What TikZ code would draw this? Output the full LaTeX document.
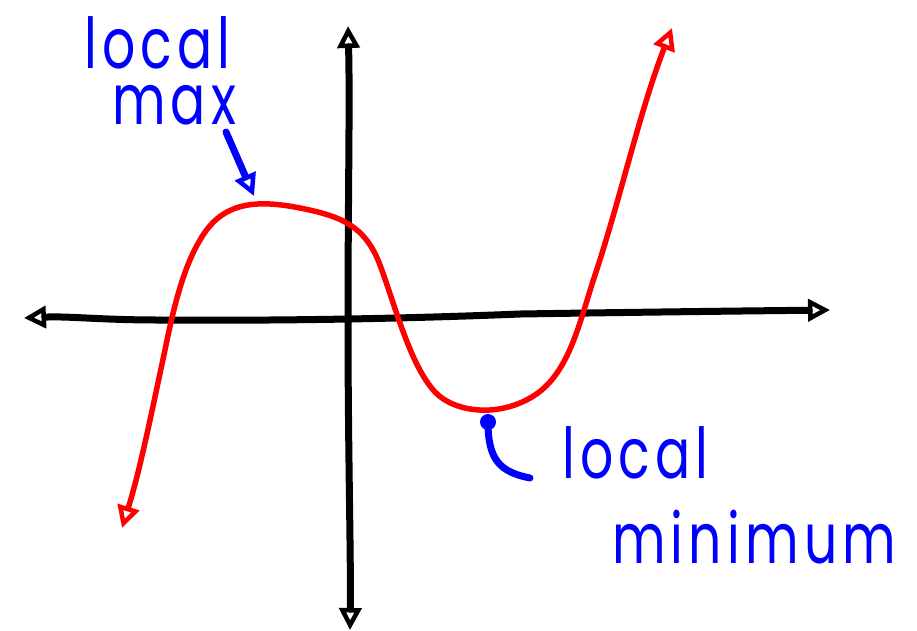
\documentclass[tikz,border=0pt]{standalone}
\usepackage{fontspec}
\usepackage{graphicx}
\newfontfamily\hand{Poppins}[LetterSpace=10]
\usetikzlibrary{arrows.meta}
\definecolor{pen}{RGB}{0,0,255}
\definecolor{redpen}{RGB}{255,0,0}
\tikzset{
  axis/.style={line width=7pt, black, line cap=round, line join=round},
  graph/.style={line width=5.5pt, redpen, line cap=round, line join=round},
  note/.style={line width=7pt, pen, line cap=round, line join=round},
  tip/.style={-{Triangle[open, length=22pt, width=22pt, line width=4.5pt]}},
  lbl/.style={text=pen, font=\hand\fontsize{52}{58}\selectfont, inner sep=0pt, anchor=base west}
}
\newcommand{\tall}[1]{\raisebox{0pt}[\height][0pt]{\scalebox{1}[1.35]{#1}}}
\begin{document}
\begin{tikzpicture}[x=1pt, y=-1pt]
\useasboundingbox (0,0) rectangle (917,630);
% axes
\coordinate (xl) at (24,318);
\coordinate (xr) at (830,310);
\coordinate (yt) at (348,26);
\coordinate (yb) at (350,630);
\draw[axis, tip] (160,320) .. controls (100,320) and (70,316) .. (xl);
\draw[axis, tip] (160,320) .. controls (300,321) and (420,318) .. (520,314) .. controls (650,312) and (740,311) .. (xr);
\draw[axis, tip] (348,320) .. controls (348,200) and (350,100) .. (yt);
\draw[axis, tip] (348,320) .. controls (348,450) and (351,560) .. (yb);
% curve
\coordinate (cl) at (122,528);
\coordinate (cr) at (672,28);
\draw[graph, tip] (300,208) .. controls (250,198) and (220,205) .. (200,240)
  .. controls (185,265) and (175,300) .. (165,350)
  .. controls (150,420) and (140,470) .. (cl);
\draw[graph, tip] (300,208) .. controls (340,216) and (365,225) .. (380,265)
  .. controls (395,305) and (410,365) .. (435,392)
  .. controls (455,413) and (500,418) .. (535,395)
  .. controls (570,372) and (580,320) .. (595,275)
  .. controls (620,200) and (640,110) .. (cr);
% labels
\node[lbl] (lmax1) at (84,68) {\tall{local}};
\node[lbl] (lmax2) at (112,124) {\tall{max}};
\node[lbl] (lmin1) at (562,478) {\tall{local}};
\node[lbl] (lmin2) at (612,563) {\tall{minimum}};
\coordinate (a1) at (226,132);
\coordinate (a2) at (254,196);
\draw[note, tip] (a1) -- (a2);
\coordinate (h1) at (488,422);
\coordinate (h2) at (530,478);
\draw[note] (h1) .. controls (488,460) and (500,472) .. (h2);
\fill[pen] (h1) circle (8pt);
\end{tikzpicture}
\end{document}
